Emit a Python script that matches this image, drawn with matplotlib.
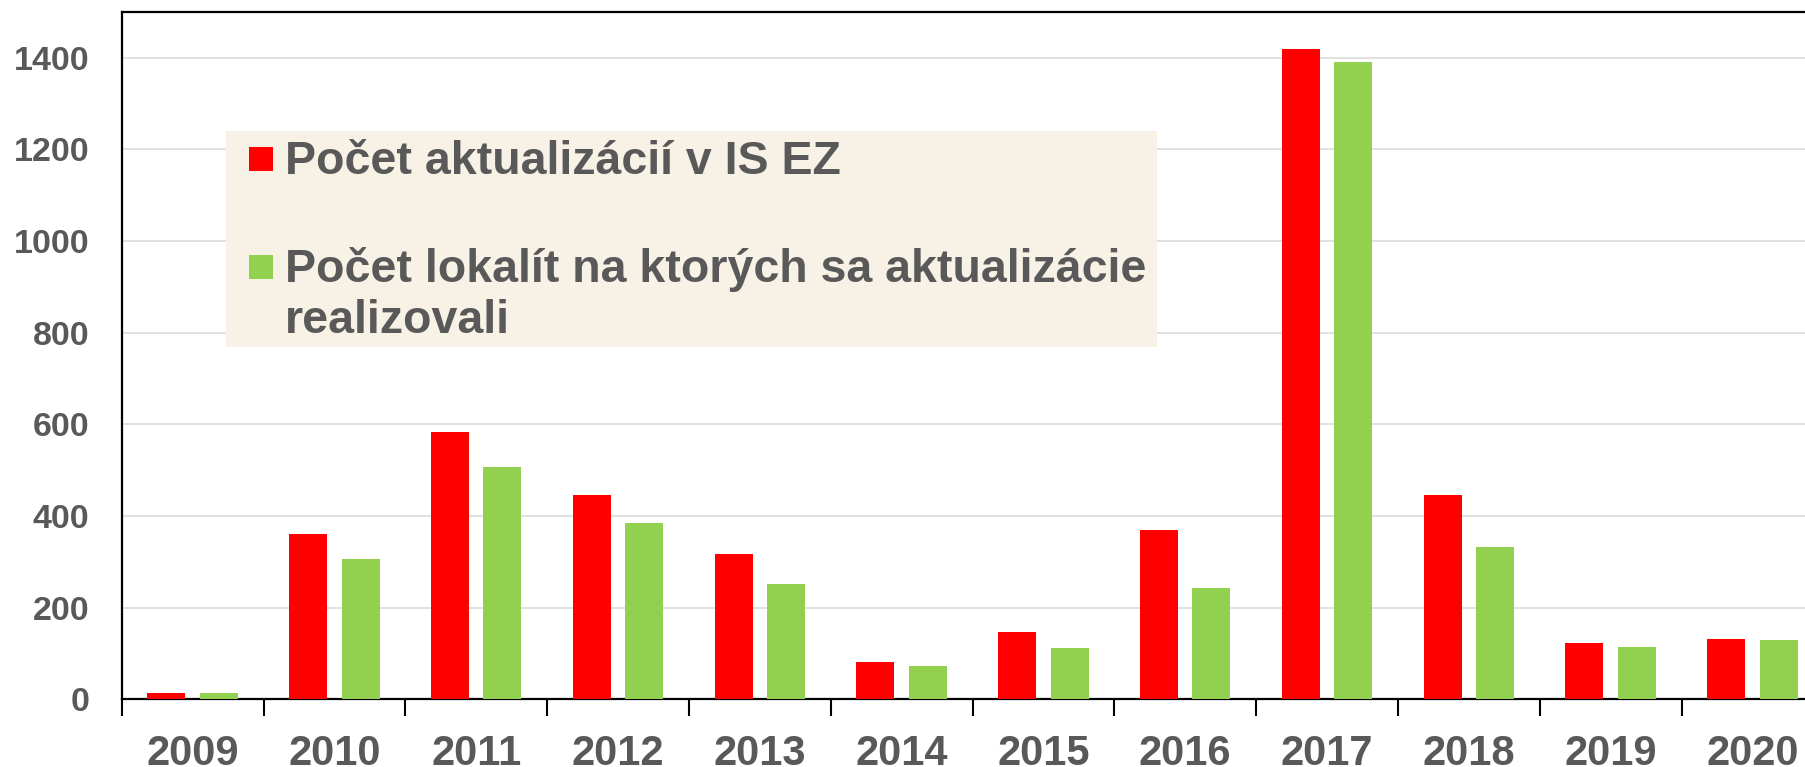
import matplotlib
matplotlib.use("Agg")
import matplotlib.pyplot as plt
from matplotlib.patches import Rectangle
import numpy as np

years = ["2009", "2010", "2011", "2012", "2013", "2014", "2015", "2016", "2017", "2018", "2019", "2020"]
aktualizacie = [13, 360, 584, 446, 317, 82, 146, 370, 1420, 446, 123, 132]
lokality = [13, 306, 507, 385, 251, 72, 111, 243, 1391, 333, 115, 130]
series_labels = ["Počet aktualizácií v IS EZ", "Počet lokalít na ktorých sa aktualizácie\nrealizovali"]
yticks = [0, 200, 400, 600, 800, 1000, 1200, 1400]

RED = "#FF0000"
GREEN = "#92D050"
TXT = "#595959"
W, H = 1805, 767

plt.rcParams['font.family'] = ['Liberation Sans', 'DejaVu Sans']
plt.rcParams['font.weight'] = 'bold'

fig = plt.figure(figsize=(W / 100, H / 100), dpi=100)
fig.patch.set_facecolor("white")

def fx(px):
    return px / W

def fy(py):
    return 1 - py / H

left, right, top, bottom = 121.7, 1823.3, 12.0, 699.3
ax = fig.add_axes([fx(left), fy(bottom), fx(right) - fx(left), fy(top) - fy(bottom)])

x = np.arange(len(years))
bw = 0.268
off = 0.185
ax.bar(x - off, aktualizacie, width=bw, color=RED, zorder=3)
ax.bar(x + off, lokality, width=bw, color=GREEN, zorder=3)

ax.set_xlim(-0.5, len(years) - 0.5)
ax.set_ylim(0, 1500)

ax.set_yticks(yticks)
ax.set_yticklabels([str(v) for v in yticks])
ax.tick_params(axis='y', length=0, pad=23.5, labelsize=24.5, labelcolor=TXT)
for lab in ax.get_yticklabels():
    lab.set_fontweight('bold')

ax.set_xticks(np.arange(len(years) + 1) - 0.5)
ax.set_xticklabels([])
ax.set_xticks(x, minor=True)
ax.set_xticklabels(years, minor=True)
ax.tick_params(axis='x', which='major', length=12, width=1.5, direction='out', color='black')
ax.tick_params(axis='x', which='minor', length=0, pad=25, labelsize=30, labelcolor=TXT)
for lab in ax.get_xticklabels(minor=True):
    lab.set_fontweight('bold')

ax.yaxis.grid(True, color="#D9D9D9", linewidth=1.1, zorder=0)
ax.set_axisbelow(True)
for s in ["left", "top", "bottom", "right"]:
    ax.spines[s].set_color("black")
    ax.spines[s].set_linewidth(1.6)

# legend box (manual)
lx0, ly0, lx1, ly1 = 226, 131, 1157, 347
fig.patches.append(Rectangle((fx(lx0), fy(ly1)), fx(lx1) - fx(lx0), fy(ly0) - fy(ly1),
                             transform=fig.transFigure, facecolor="#F7F1E6", edgecolor="none", zorder=5))
sq = 24
for (sqy, col, base, lab) in [(147, RED, 174, series_labels[0]), (255, GREEN, 281.7, series_labels[1])]:
    fig.patches.append(Rectangle((fx(249), fy(sqy + sq)), fx(sq), fy(0) - fy(sq),
                                 transform=fig.transFigure, facecolor=col, edgecolor="none", zorder=6))
    lines = lab.split("\n")
    for i, ln in enumerate(lines):
        fig.text(fx(285), fy(base + i * 51.6), ln, fontsize=33.5, fontweight='bold', color=TXT,
                 ha='left', va='baseline', zorder=7)

fig.savefig("out.png", dpi=100)
